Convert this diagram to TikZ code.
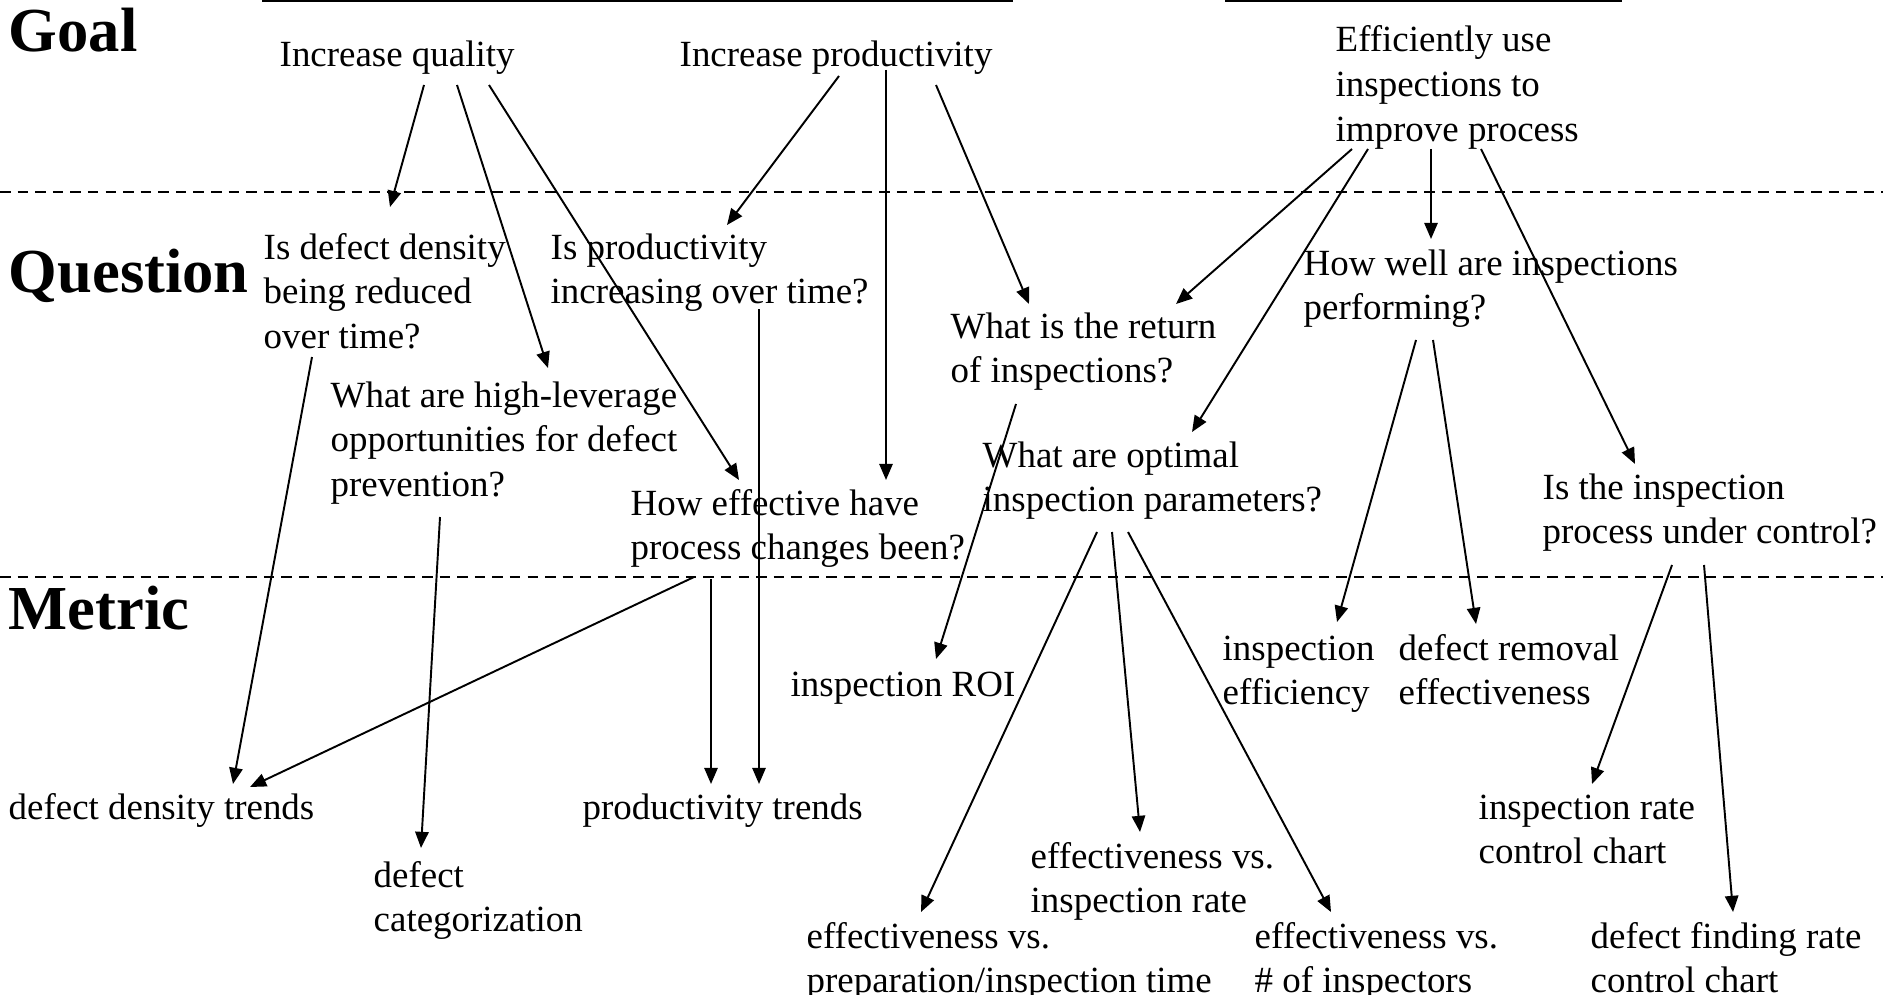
\documentclass[tikz,border=0pt]{standalone}
\usepackage{fontspec}
\setmainfont{Liberation Serif}
\usetikzlibrary{arrows.meta}
\newcommand{\txtlines}[1]{\begin{tabular}[t]{@{}l@{}}#1\end{tabular}}

\begin{document}
\begin{tikzpicture}[x=0.01cm,y=-0.01cm,
    txt/.style={anchor=base west,inner sep=0pt,font=\fontsize{10.5}{12.66}\selectfont},
    level/.style={anchor=base west,inner sep=0pt,font=\fontsize{17.8}{20}\selectfont\bfseries},
    arr/.style={-{Triangle[length=4.6pt,width=3.8pt]},line width=0.55pt},
    divider/.style={line width=0.7pt,dash pattern=on 3pt off 2pt}]
  \useasboundingbox (0,0) rectangle (1883,994);
  \draw[line width=0.45pt] (262,0.8) -- (1013,0.8);
  \draw[line width=0.45pt] (1225,0.8) -- (1622,0.8);
  \draw[divider] (0,192) -- (1883,192);
  \draw[divider] (0,577) -- (1883,577);

  \node[level] (goal)  at (8,52)  {Goal};
  \node[level] (quest) at (8,292) {Question};
  \node[level] (metr)  at (8,629) {Metric};

  \node[txt] (qual)   at (279,67)  {Increase quality};
  \node[txt] (prod)   at (679,67)  {Increase productivity};
  \node[txt] (effuse) at (1335,52) {\txtlines{Efficiently use\\inspections to\\improve process}};

  \node[txt] (qdens) at (263,259)  {\txtlines{Is defect density\\being reduced\\over time?}};
  \node[txt] (qprod) at (550,259)  {\txtlines{Is productivity\\increasing over time?}};
  \node[txt] (qlev)  at (330,407)  {\txtlines{What are high-leverage\\opportunities for defect\\prevention?}};
  \node[txt] (qchg)  at (630,515)  {\txtlines{How effective have\\process changes been?}};
  \node[txt] (qroi)  at (950,338)  {\txtlines{What is the return\\of inspections?}};
  \node[txt] (qopt)  at (982,467)  {\txtlines{What are optimal\\inspection parameters?}};
  \node[txt] (qwell) at (1303,275) {\txtlines{How well are inspections\\performing?}};
  \node[txt] (qctrl) at (1542,499) {\txtlines{Is the inspection\\process under control?}};

  \node[txt] (mdens) at (8,819)    {defect density trends};
  \node[txt] (mcat)  at (373,887)  {\txtlines{defect\\categorization}};
  \node[txt] (mprod) at (582,819)  {productivity trends};
  \node[txt] (mroi)  at (790,696)  {inspection ROI};
  \node[txt] (mprep) at (806,948)  {\txtlines{effectiveness vs.\\preparation/inspection time}};
  \node[txt] (mrate) at (1030,868) {\txtlines{effectiveness vs.\\inspection rate}};
  \node[txt] (minsp) at (1254,948) {\txtlines{effectiveness vs.\\\# of inspectors}};
  \node[txt] (meff)  at (1222,660) {\txtlines{inspection\\efficiency}};
  \node[txt] (mrem)  at (1398,660) {\txtlines{defect removal\\effectiveness}};
  \node[txt] (mirc)  at (1478,819) {\txtlines{inspection rate\\control chart}};
  \node[txt] (mdfr)  at (1590,948) {\txtlines{defect finding rate\\control chart}};

  \draw[arr] ([shift={(145,18)}]qual.base west) -- ([shift={(127,-52)}]qdens.base west);
  \draw[arr] ([shift={(178,18)}]qual.base west) -- ([shift={(218,-39)}]qlev.base west);
  \draw[arr] ([shift={(210,18)}]qual.base west) -- ([shift={(109,-35)}]qchg.base west);
  \draw[arr] ([shift={(160,9)}]prod.base west) -- ([shift={(177,-34)}]qprod.base west);
  \draw[arr] ([shift={(207,3)}]prod.base west) -- ([shift={(256,-35)}]qchg.base west);
  \draw[arr] ([shift={(257,18)}]prod.base west) -- ([shift={(79,-34)}]qroi.base west);
  \draw[arr] ([shift={(17,97)}]effuse.base west) -- ([shift={(226,-34)}]qroi.base west);
  \draw[arr] ([shift={(33,97)}]effuse.base west) -- ([shift={(210,-35)}]qopt.base west);
  \draw[arr] ([shift={(96,97)}]effuse.base west) -- ([shift={(128,-36)}]qwell.base west);
  \draw[arr] ([shift={(146,97)}]effuse.base west) -- ([shift={(93,-35)}]qctrl.base west);

  \draw[arr] ([shift={(49,98)}]qdens.base west) -- ([shift={(225,-35)}]mdens.base west);
  \draw[arr] ([shift={(110,110)}]qlev.base west) -- ([shift={(48,-39)}]mcat.base west);
  \draw[arr] ([shift={(209,50)}]qprod.base west) -- ([shift={(177,-35)}]mprod.base west);
  \draw[arr] ([shift={(81,64)}]qchg.base west) -- ([shift={(129,-35)}]mprod.base west);
  \draw[arr] ([shift={(64,62)}]qchg.base west) -- ([shift={(242,-32)}]mdens.base west);
  \draw[arr] ([shift={(66,66)}]qroi.base west) -- ([shift={(146,-37)}]mroi.base west);
  \draw[arr] ([shift={(115,65)}]qopt.base west) -- ([shift={(115,-36)}]mprep.base west);
  \draw[arr] ([shift={(130,65)}]qopt.base west) -- ([shift={(110,-36)}]mrate.base west);
  \draw[arr] ([shift={(146,65)}]qopt.base west) -- ([shift={(77,-36)}]minsp.base west);
  \draw[arr] ([shift={(113,65)}]qwell.base west) -- ([shift={(115,-38)}]meff.base west);
  \draw[arr] ([shift={(130,65)}]qwell.base west) -- ([shift={(78,-36)}]mrem.base west);
  \draw[arr] ([shift={(130,66)}]qctrl.base west) -- ([shift={(114,-35)}]mirc.base west);
  \draw[arr] ([shift={(162,66)}]qctrl.base west) -- ([shift={(143,-36)}]mdfr.base west);
\end{tikzpicture}
\end{document}
